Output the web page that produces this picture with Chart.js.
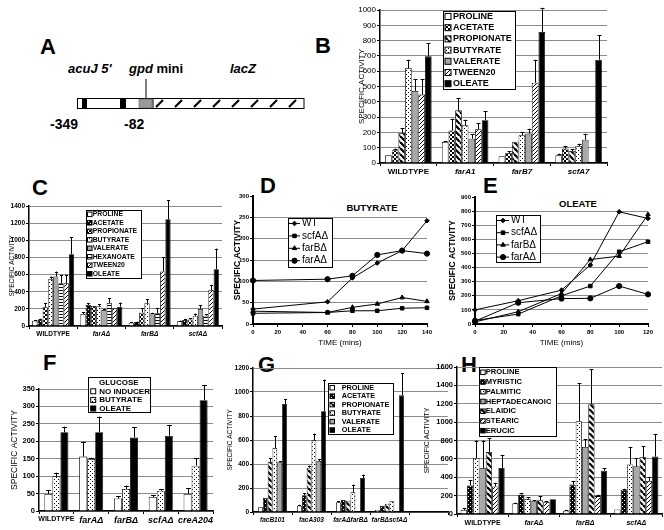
<!DOCTYPE html>
<html>
<head>
<meta charset="utf-8">
<script src="https://cdn.jsdelivr.net/npm/chart.js@4.4.0/dist/chart.umd.min.js"></script>
<style>
  html, body { margin: 0; padding: 0; background: #fff; }
  body { position: relative; width: 664px; height: 530px; overflow: hidden; font-family: "Liberation Sans", Arial, sans-serif; }
  canvas { position: absolute; }
  .letter { position: absolute; font-weight: bold; font-size: 22px; line-height: 22px; }
  .ptitle { position: absolute; font-weight: bold; font-size: 9.5px; transform: translate(-50%, -50%); white-space: nowrap; }
  svg { position: absolute; left: 0; top: 0; }
</style>
</head>
<body>

<svg id="diagram" width="330" height="150"></svg>

<div class="letter" style="left:40px;top:36px">A</div>
<div class="letter" style="left:315px;top:35px">B</div>
<div class="letter" style="left:32px;top:177px">C</div>
<div class="letter" style="left:260px;top:175px">D</div>
<div class="letter" style="left:483px;top:175px">E</div>
<div class="letter" style="left:43px;top:352px">F</div>
<div class="letter" style="left:258px;top:354px">G</div>
<div class="letter" style="left:461px;top:354px">H</div>

<div class="ptitle" style="left:372px;top:207px">BUTYRATE</div>
<div class="ptitle" style="left:578px;top:203px">OLEATE</div>

<canvas id="chartB"></canvas>
<canvas id="chartC"></canvas>
<canvas id="chartD"></canvas>
<canvas id="chartE"></canvas>
<canvas id="chartF"></canvas>
<canvas id="chartG"></canvas>
<canvas id="chartH"></canvas>

<script>
// ---- panel B: acuJ-lacZ, point mutants
const bCats = ['WILDTYPE', 'farA1', 'farB7', 'scfA7'];
const bNames = ['PROLINE', 'ACETATE', 'PROPIONATE', 'BUTYRATE', 'VALERATE', 'TWEEN20', 'OLEATE'];
const bVals = [
  [50, 137, 44, 50],
  [83, 213, 65, 94],
  [196, 344, 139, 78],
  [621, 246, 181, 111],
  [471, 159, 192, 152],
  [447, 220, 525, null],
  [697, 279, 856, 675]
];
const bErr = [
  [0, 7, 0, 11],
  [11, 77, 11, 17],
  [33, 81, 0, 12],
  [54, 37, 22, 15],
  [76, 28, 32, 40],
  [100, 41, 150, 0],
  [87, 59, 159, 159]
];

// ---- panel C: deletion mutants
const cCats = ['WILDTYPE', 'farA\u0394', 'farB\u0394', 'scfA\u0394'];
const cNames = ['PROLINE', 'ACETATE', 'PROPIONATE', 'BUTYRATE', 'VALERATE', 'HEXANOATE', 'TWEEN20', 'OLEATE'];
const cVals = [
  [62, 140, 39, 55],
  [75, 245, 47, 70],
  [220, 234, 156, 75],
  [546, 230, 265, 120],
  [577, 187, 145, 200],
  [499, 269, 150, 120],
  [499, 207, 635, 420],
  [838, 226, 1245, 663]
];
const cErr = [
  [8, 20, 3, 8],
  [10, 25, 5, 10],
  [50, 0, 55, 15],
  [31, 25, 50, 25],
  [58, 15, 10, 40],
  [97, 55, 60, 20],
  [97, 0, 170, 55],
  [200, 47, 220, 240]
];

// ---- panel D: butyrate time course
const dTimes = [0, 60, 80, 100, 120, 140];
const dNames = ['WT', 'scfA\u0394', 'farB\u0394', 'farA\u0394'];
const dVals = [
  [35, 52, 108, 143, 172, 242],
  [25, 27, 31, 31, 37, 38],
  [30, 27, 39, 47, 62, 53],
  [102, 105, 113, 162, 172, 165]
];

// ---- panel E: oleate time course
const eTimes = [0, 30, 60, 80, 100, 120];
const eNames = ['WT', 'scfA\u0394', 'farB\u0394', 'farA\u0394'];
const eVals = [
  [100, 165, 240, 418, 795, 748],
  [25, 70, 200, 269, 512, 583],
  [15, 87, 216, 457, 481, 776],
  [20, 151, 180, 182, 269, 210]
];

// ---- panel F: glucose repression
const fCats = ['WILDTYPE', 'farA\u0394', 'farB\u0394', 'scfA\u0394', 'creA204'];
const fNames = ['NO INDUCER', 'BUTYRATE', 'OLEATE'];
const fVals = [
  [49, 156, 36, 40, 49],
  [100, 149, 63, 58, 130],
  [226, 226, 211, 216, 318]
];
const fErr = [
  [11, 43, 7, 6, 16],
  [10, 4, 10, 5, 21],
  [16, 45, 29, 31, 43]
];

// ---- panel G: fac mutants and double deletions
const gCats = ['facB101', 'facA303', 'farA\u0394farB\u0394', 'farB\u0394scfA\u0394', ''];
const gNames = ['PROLINE', 'ACETATE', 'PROPIONATE', 'BUTYRATE', 'VALERATE', 'OLEATE'];
const gVals = [
  [39, 53, 81, 19, null],
  [119, 139, 100, 50, null],
  [417, 369, 94, 69, null],
  [533, 597, 164, 89, null],
  [414, 425, null, null, null],
  [900, 839, 283, 972, null]
];
const gErr = [
  [0, 8, 8, 0, 0],
  [0, 19, 0, 0, 0],
  [33, 17, 0, 0, 0],
  [97, 56, 64, 0, 0],
  [8, 17, 0, 0, 0],
  [42, 264, 28, 186, 0]
];

// ---- panel H: long chain fatty acids
const hCats = ['WILDTYPE', 'farA\u0394', 'farB\u0394', 'scfA\u0394'];
const hNames = ['PROLINE', 'MYRISTIC', 'PALMITIC', 'HEPTADECANOIC', 'ELAIDIC', 'STEARIC', 'ERUCIC'];
const hVals = [
  [45, 115, 35, 50],
  [310, 210, 320, 265],
  [610, 165, 1010, 540],
  [500, 140, 730, 520],
  [675, 150, 1195, 620],
  [300, 130, 195, 360],
  [500, 160, 470, 625]
];
const hErr = [
  [15, 8, 5, 0],
  [60, 15, 40, 10],
  [190, 15, 415, 185],
  [300, 10, 85, 86],
  [150, 45, 378, 121],
  [40, 10, 15, 45],
  [142, 0, 30, 247]
];

const FONT = '"Liberation Sans", Arial, sans-serif';
Chart.defaults.font.family = FONT;
Chart.defaults.color = '#000';
Chart.defaults.animation = false;

// fill patterns
function tile(n, draw) {
  const c = document.createElement('canvas');
  c.width = c.height = n;
  const g = c.getContext('2d');
  g.fillStyle = '#fff';
  g.fillRect(0, 0, n, n);
  g.fillStyle = '#000';
  g.strokeStyle = '#000';
  draw(g, n);
  return g.createPattern(c, 'repeat');
}
const WHITE = '#ffffff', BLACK = '#000000', GRAY = '#a8a8a8';
const CHECK = tile(4, g => { g.fillRect(0, 0, 2, 2); g.fillRect(2, 2, 2, 2); });
const DOTS = tile(4, g => { g.fillRect(0, 0, 1, 1); g.fillRect(2, 2, 1, 1); });
const DARKDOT = tile(4, g => { g.fillRect(0, 0, 4, 4); g.fillStyle = '#fff'; g.fillRect(1, 1, 1, 1); g.fillRect(3, 3, 1, 1); });
const HSTRIPE = tile(3, g => { g.fillRect(0, 0, 3, 1); });
const BSLASH = tile(6, (g, n) => { g.lineWidth = 2.2; [-n, 0, n].forEach(x0 => { g.beginPath(); g.moveTo(x0, 0); g.lineTo(x0 + n, n); g.stroke(); }); });
const FSLASH = tile(4, (g, n) => { g.lineWidth = 1; [-n, 0, n].forEach(x0 => { g.beginPath(); g.moveTo(x0, n); g.lineTo(x0 + n, 0); g.stroke(); }); });

// error bars (plus side only)
const errBars = {
  id: 'errBars',
  afterDatasetsDraw(chart) {
    const ctx = chart.ctx, ys = chart.scales.y;
    ctx.save();
    ctx.strokeStyle = '#000';
    ctx.lineWidth = 1;
    chart.data.datasets.forEach((ds, i) => {
      if (!ds.errors) return;
      chart.getDatasetMeta(i).data.forEach((bar, j) => {
        const v = ds.data[j], e = ds.errors[j];
        if (v == null || !e) return;
        const yTop = ys.getPixelForValue(v + e);
        const cw = Math.max(1.5, bar.width * 0.3);
        const x = Math.round(bar.x) + 0.5;
        ctx.beginPath();
        ctx.moveTo(x, bar.y);
        ctx.lineTo(x, yTop);
        ctx.moveTo(x - cw, Math.round(yTop) + 0.5);
        ctx.lineTo(x + cw, Math.round(yTop) + 0.5);
        ctx.stroke();
      });
    });
    ctx.restore();
  }
};

// boxed legend in the plot, Excel style
const boxLegend = {
  id: 'boxLegend',
  afterDraw(chart, args, o) {
    if (!o || o.x == null) return;
    const ctx = chart.ctx;
    const x = o.x - o.ox, y = o.y - o.oy;
    ctx.save();
    ctx.fillStyle = '#fff';
    ctx.fillRect(x, y, o.w, o.h);
    ctx.strokeStyle = '#000';
    ctx.lineWidth = 1;
    ctx.strokeRect(Math.round(x) + 0.5, Math.round(y) + 0.5, Math.round(o.w), Math.round(o.h));
    ctx.font = o.font;
    ctx.textBaseline = 'middle';
    let yy = y + o.first;
    if (o.title) {
      ctx.fillStyle = '#000';
      ctx.fillText(o.title, x + o.titleX, yy);
      yy += o.row;
    }
    chart.data.datasets.forEach(ds => {
      if (o.line) {
        ctx.strokeStyle = '#000';
        ctx.fillStyle = '#000';
        ctx.beginPath();
        ctx.moveTo(x + o.lx0, yy);
        ctx.lineTo(x + o.lx1, yy);
        ctx.stroke();
        Chart.helpers.drawPoint(ctx, { pointStyle: ds.pointStyle, radius: ds.pointRadius, rotation: 0, borderWidth: 1 }, x + (o.lx0 + o.lx1) / 2, yy);
      } else {
        ctx.fillStyle = ds.backgroundColor;
        ctx.fillRect(x + o.sx, yy - o.sw / 2, o.sw, o.sw);
        ctx.strokeStyle = '#000';
        ctx.strokeRect(x + o.sx, yy - o.sw / 2, o.sw, o.sw);
      }
      ctx.fillStyle = '#000';
      ctx.fillText(ds.label, x + o.tx, yy);
      yy += o.row;
    });
    ctx.restore();
  }
};

function place(id, P, o) {
  const cv = document.getElementById(id);
  const left = P.l - o.yW, top = P.t - o.padT;
  cv.style.left = left + 'px';
  cv.style.top = top + 'px';
  cv.width = P.r - P.l + o.yW + o.padR;
  cv.height = P.b - P.t + o.padT + o.xH;
  return { cv, left, top };
}

function yScale(o) {
  return {
    min: 0, max: o.max,
    ticks: { stepSize: o.step, font: o.tickFont, padding: 1, callback: v => String(v) },
    grid: {
      color: c => (o.noTop && c.tick && c.tick.value === o.max) ? 'rgba(0,0,0,0)' : '#8c8c8c',
      lineWidth: 1, tickLength: 3, tickColor: '#000', drawTicks: true
    },
    border: { color: '#000', width: o.yBorder || 1.5 },
    title: { display: true, text: 'SPECIFIC ACTIVITY', font: o.titleFont, padding: { top: o.titlePad, bottom: 0 } },
    afterFit: s => { s.width = o.yW; }
  };
}

function barChart(id, P, cats, names, vals, errs, fills, o) {
  const { cv, left, top } = place(id, P, o);
  return new Chart(cv, {
    type: 'bar',
    data: {
      labels: cats,
      datasets: names.map((n, i) => ({
        label: n, data: vals[i], errors: errs[i], backgroundColor: fills[i],
        borderColor: '#000', borderWidth: 0.8, categoryPercentage: o.cp, barPercentage: 1
      }))
    },
    options: {
      responsive: false, animation: false,
      layout: { padding: { top: o.padT, right: o.padR, left: 0, bottom: 0 } },
      scales: {
        x: {
          ticks: { font: o.catFont, padding: o.catPad, maxRotation: 0, autoSkip: false },
          grid: { drawOnChartArea: false, offset: true, tickLength: 3, color: '#000' },
          border: { color: '#000', width: 1.5 },
          afterFit: s => { s.height = o.xH; }
        },
        y: yScale(o)
      },
      plugins: {
        legend: { display: false }, tooltip: { enabled: false },
        boxLegend: Object.assign({ ox: left, oy: top }, o.leg)
      }
    },
    plugins: [errBars, boxLegend]
  });
}

function lineChart(id, P, times, names, vals, marks, o) {
  const { cv, left, top } = place(id, P, o);
  return new Chart(cv, {
    type: 'line',
    data: {
      datasets: names.map((n, i) => ({
        label: n, data: times.map((t, j) => ({ x: t, y: vals[i][j] })),
        borderColor: '#000', backgroundColor: '#000', borderWidth: 1,
        pointStyle: marks[i][0], pointRadius: marks[i][1], pointBorderWidth: 1,
        tension: 0, clip: false
      }))
    },
    options: {
      responsive: false, animation: false,
      layout: { padding: { top: o.padT, right: o.padR, left: 0, bottom: 0 } },
      scales: {
        x: {
          type: 'linear', min: 0, max: o.xMax,
          ticks: { stepSize: 20, font: o.tickFont, padding: 2 },
          grid: { drawOnChartArea: false, tickLength: 3, color: '#000' },
          border: { color: '#000', width: 2 },
          title: { display: true, text: 'TIME (mins)', font: { size: 8 }, padding: { top: 0, bottom: 0 } },
          afterFit: s => { s.height = o.xH; }
        },
        y: yScale(o)
      },
      plugins: {
        legend: { display: false }, tooltip: { enabled: false },
        boxLegend: Object.assign({ ox: left, oy: top }, o.leg)
      }
    },
    plugins: [boxLegend]
  });
}

const italicAfterFirst = (size, firstSize) => c => ({ size: c.index === 0 ? (firstSize || size) : size, weight: 'bold', style: c.index === 0 ? 'normal' : 'italic' });
const lineMarks = [['rectRot', 2.3], ['rect', 2.5], ['triangle', 2.6], ['circle', 2.6]];

barChart('chartB', { l: 380, t: 10, r: 607, b: 163 }, bCats, bNames, bVals, bErr,
  [WHITE, CHECK, BSLASH, DOTS, GRAY, FSLASH, BLACK], {
    yW: 28, xH: 14, padT: 6, padR: 8, cp: 0.82, max: 1000, step: 100,
    tickFont: { size: 8 }, titleFont: { size: 8 }, titlePad: 5,
    catFont: italicAfterFirst(8), catPad: 1,
    leg: { x: 443, y: 11, w: 72, h: 78, first: 5.5, row: 11.2, sx: 2, sw: 6, tx: 10, font: 'bold 9px ' + FONT }
  });

barChart('chartC', { l: 29, t: 206, r: 222, b: 326 }, cCats, cNames, cVals, cErr,
  [WHITE, DARKDOT, CHECK, DOTS, GRAY, HSTRIPE, FSLASH, BLACK], {
    yW: 26, xH: 12, padT: 6, padR: 4, cp: 0.87, max: 1400, step: 200,
    tickFont: { size: 6.5, weight: 'bold' }, titleFont: { size: 6.5 }, titlePad: 5,
    catFont: italicAfterFirst(6.5), catPad: 1,
    leg: { x: 86, y: 210, w: 55, h: 68, first: 4.3, row: 8.5, sx: 1.5, sw: 4.5, tx: 6.7, font: 'bold 6.8px ' + FONT }
  });

lineChart('chartD', { l: 253, t: 196, r: 427, b: 324 }, dTimes, dNames, dVals, lineMarks, {
    yW: 22, xH: 24, padT: 6, padR: 8, xMax: 140, max: 300, step: 50, noTop: true, yBorder: 2,
    tickFont: { size: 6, weight: 'bold' }, titleFont: { size: 8.5, weight: 'bold' }, titlePad: 1.8,
    leg: { x: 288, y: 218, w: 44, h: 49, first: 5.5, row: 12.4, line: true, lx0: 1, lx1: 12, tx: 14, font: '10px ' + FONT }
  });

lineChart('chartE', { l: 475, t: 197, r: 648, b: 324 }, eTimes, eNames, eVals, lineMarks, {
    yW: 28, xH: 24, padT: 6, padR: 10, xMax: 120, max: 900, step: 100, noTop: true, yBorder: 2,
    tickFont: { size: 6, weight: 'bold' }, titleFont: { size: 8.5, weight: 'bold' }, titlePad: 0.8,
    leg: { x: 496, y: 215, w: 44, h: 47, first: 5.5, row: 12.2, line: true, lx0: 1, lx1: 13, tx: 15, font: '10px ' + FONT }
  });

barChart('chartF', { l: 39, t: 389, r: 213, b: 511 }, fCats, fNames, fVals, fErr,
  [WHITE, DOTS, BLACK], {
    yW: 31, xH: 17, padT: 16, padR: 4, cp: 0.69, max: 350, step: 50,
    tickFont: { size: 7.5, weight: 'bold' }, titleFont: { size: 8.5 }, titlePad: 1.9,
    catFont: c => ({ size: c.index === 0 ? 7 : 9, weight: 'bold', style: c.index === 0 ? 'normal' : 'italic' }),
    catPad: 1,
    leg: { x: 88, y: 377, w: 62, h: 35, first: 5.7, row: 8.6, sx: 2.7, sw: 5, tx: 11.3, title: 'GLUCOSE', titleX: 11, font: 'bold 8px ' + FONT }
  });

barChart('chartG', { l: 253, t: 368, r: 448, b: 512 }, gCats, gNames, gVals, gErr,
  [WHITE, DARKDOT, BSLASH, DOTS, GRAY, BLACK], {
    yW: 29, xH: 14, padT: 6, padR: 4, cp: 0.74, max: 1200, step: 200,
    tickFont: { size: 6.5, weight: 'bold' }, titleFont: { size: 6.5 }, titlePad: 2.1,
    catFont: { size: 6.5, weight: 'bold', style: 'italic' }, catPad: 1,
    leg: { x: 328, y: 383, w: 65, h: 51, first: 4.7, row: 8.47, sx: 2, sw: 4.5, tx: 13.7, font: 'bold 7.3px ' + FONT }
  });

barChart('chartH', { l: 457, t: 367, r: 662, b: 514 }, hCats, hNames, hVals, hErr,
  [WHITE, DARKDOT, DOTS, GRAY, BSLASH, FSLASH, BLACK], {
    yW: 36, xH: 14, padT: 6, padR: 2, cp: 0.86, max: 1600, step: 200,
    tickFont: { size: 7.5, weight: 'bold' }, titleFont: { size: 7 }, titlePad: 1.8,
    catFont: italicAfterFirst(7), catPad: 2,
    leg: { x: 479, y: 367, w: 77, h: 69, first: 5.3, row: 9.73, sx: 1.7, sw: 4.5, tx: 6.7, font: 'bold 7.6px ' + FONT }
  });

// ---- panel A: construct diagram (not data)
(function () {
  const NS = 'http://www.w3.org/2000/svg';
  const svg = document.getElementById('diagram');
  function el(tag, attrs, text) {
    const e = document.createElementNS(NS, tag);
    for (const k in attrs) e.setAttribute(k, attrs[k]);
    if (text) e.textContent = text;
    svg.appendChild(e);
    return e;
  }
  const tf = { 'font-family': FONT, 'font-weight': 'bold', 'font-size': 13 };
  el('text', Object.assign({ x: 68, y: 72.5, 'font-style': 'italic' }, tf), "acuJ 5'");
  const t = el('text', Object.assign({ x: 129, y: 72.5 }, tf));
  const s1 = document.createElementNS(NS, 'tspan'); s1.setAttribute('font-style', 'italic'); s1.textContent = 'gpd'; t.appendChild(s1);
  const s2 = document.createElementNS(NS, 'tspan'); s2.textContent = ' mini'; t.appendChild(s2);
  el('text', Object.assign({ x: 230, y: 72.5, 'font-style': 'italic' }, tf), 'lacZ');
  el('line', { x1: 146, y1: 79, x2: 146, y2: 98.5, stroke: '#000', 'stroke-width': 1 });
  el('rect', { x: 77.5, y: 98.5, width: 226.5, height: 10, fill: '#fff', stroke: '#000', 'stroke-width': 1 });
  el('rect', { x: 82, y: 99, width: 5, height: 9, fill: '#000' });
  el('rect', { x: 120, y: 99, width: 6, height: 9, fill: '#000' });
  el('rect', { x: 139, y: 99, width: 13, height: 9, fill: '#9a9a9a', stroke: '#555', 'stroke-width': 0.5 });
  el('line', { x1: 153, y1: 98.5, x2: 153, y2: 108.5, stroke: '#000', 'stroke-width': 1 });
  for (let i = 0; i < 8; i++) {
    const x0 = 156 + 19 * i;
    el('line', { x1: x0, y1: 107, x2: x0 + 7, y2: 100, stroke: '#000', 'stroke-width': 2.2 });
  }
  const nf = { 'font-family': FONT, 'font-weight': 'bold', 'font-size': 14 };
  el('text', Object.assign({ x: 50, y: 128.5 }, nf), '-349');
  el('text', Object.assign({ x: 124, y: 128.5 }, nf), '-82');
})();
</script>
</body>
</html>
